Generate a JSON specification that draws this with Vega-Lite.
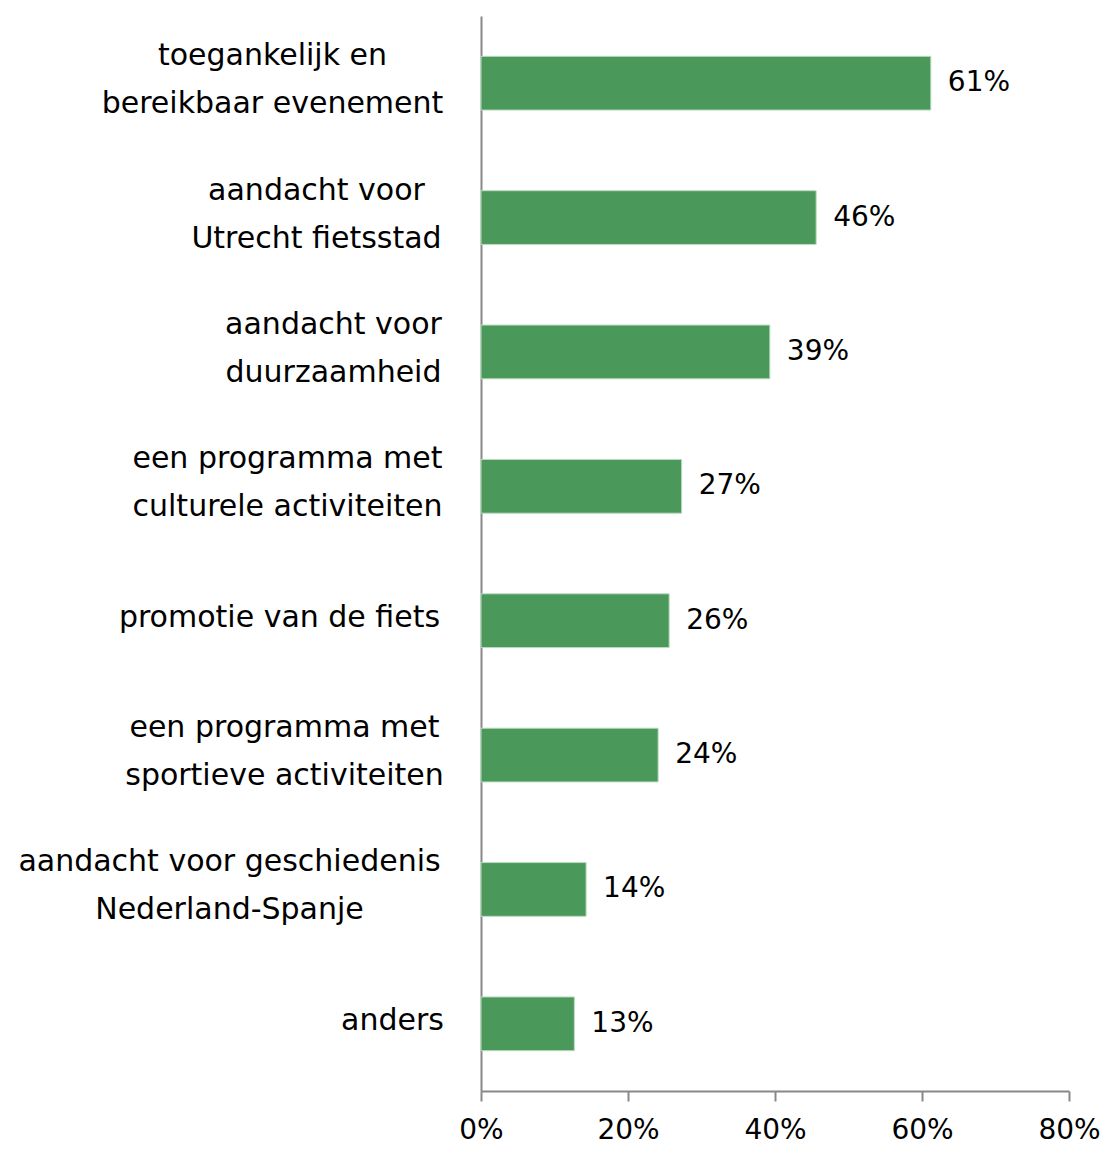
{
  "$schema": "https://vega.github.io/schema/vega-lite/v6.json",
  "autosize": {"type": "none"},
  "padding": {"left": 481, "top": 16, "right": 36, "bottom": 58},
  "width": 588,
  "height": 1075,
  "background": "white",
  "config": {"view": {"stroke": null}, "font": "DejaVu Sans"},
  "data": {"values": [
    {"item": "toegankelijk en|bereikbaar evenement", "value": 0.612},
    {"item": "aandacht voor |Utrecht fietsstad", "value": 0.456},
    {"item": "aandacht voor|duurzaamheid", "value": 0.393},
    {"item": "een programma met|culturele activiteiten", "value": 0.273},
    {"item": "promotie van de fiets", "value": 0.256},
    {"item": "een programma met|sportieve activiteiten", "value": 0.241},
    {"item": "aandacht voor geschiedenis|Nederland-Spanje", "value": 0.143},
    {"item": "anders", "value": 0.127}
  ]},
  "encoding": {
    "y": {
      "field": "item", "type": "nominal", "sort": null,
      "scale": {"paddingInner": 0.6, "paddingOuter": 0.3},
      "axis": {
        "title": null,
        "ticks": false,
        "tickSize": 0,
        "domainColor": "#888888",
        "domainWidth": 2,
        "labelExpr": "split(datum.value, '|')",
        "labelFont": "DejaVu Sans",
        "labelFontSize": 30,
        "labelColor": "#000000",
        "labelLineHeight": 48,
        "labelLimit": 0,
        "labelAlign": "center",
        "labelBaseline": "middle",
        "labelOffset": {"expr": "datum.value == 'promotie van de fiets' || datum.value == 'anders' ? -3 : -27"},
        "labelPadding": {"expr": "datum.value == 'toegankelijk en|bereikbaar evenement' ? 209 : datum.value == 'aandacht voor |Utrecht fietsstad' ? 165 : datum.value == 'aandacht voor|duurzaamheid' ? 148 : datum.value == 'een programma met|culturele activiteiten' ? 194 : datum.value == 'promotie van de fiets' ? 202 : datum.value == 'een programma met|sportieve activiteiten' ? 197 : datum.value == 'aandacht voor geschiedenis|Nederland-Spanje' ? 252 : 89"}
      }
    },
    "x": {
      "field": "value", "type": "quantitative",
      "scale": {"domain": [0, 0.8], "nice": false},
      "axis": {
        "title": null,
        "values": [0, 0.2, 0.4, 0.6, 0.8],
        "format": ".0%",
        "grid": false,
        "domainColor": "#888888",
        "domainWidth": 2,
        "tickColor": "#888888",
        "tickWidth": 2,
        "tickSize": 10,
        "labelPadding": 15,
        "labelFont": "DejaVu Sans",
        "labelFontSize": 28,
        "labelColor": "#000000",
        "labelFlush": false,
        "labelOverlap": false
      }
    }
  },
  "layer": [
    {"mark": {"type": "bar", "color": "#4a995a", "stroke": "#b9dcc0", "strokeWidth": 1}},
    {"mark": {"type": "text", "align": "left", "baseline": "middle", "dx": 17, "fontSize": 28, "font": "DejaVu Sans", "color": "#000000"},
     "encoding": {"text": {"field": "value", "type": "quantitative", "format": ".0%"}}}
  ]
}
